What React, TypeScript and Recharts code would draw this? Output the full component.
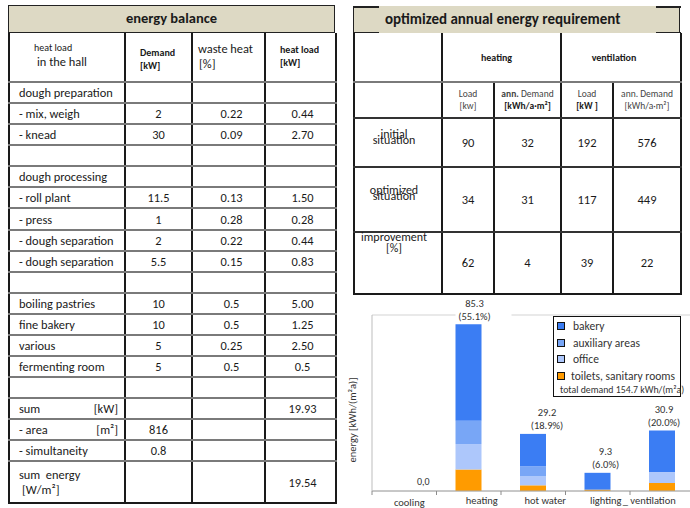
import { Bar, BarChart, CartesianGrid, LabelList, XAxis, YAxis } from 'recharts'

const FONT = 'Carlito, Lato, "Noto Sans", sans-serif'
const INK = '#1a1a1a'
const BEIGE = '#ddd9c4'
const V_LINE = '2px solid #1a1a1a'
const H_LINE = '2px solid #7a7a7a'

// energy balance
const balanceItems = [
  'dough preparation', '- mix, weigh', '- knead', '',
  'dough processing', '- roll plant', '- press', '- dough separation', '- dough separation', '',
  'boiling pastries', 'fine bakery', 'various', 'fermenting room', '',
  'sum', '- area', '- simultaneity',
]
const balanceUnits = ['', '', '', '', '', '', '', '', '', '', '', '', '', '', '', '[kW]', '[m²]', '']
const balanceDemand = ['', '2', '30', '', '', '11.5', '1', '2', '5.5', '', '10', '10', '5', '5', '', '', '816', '0.8']
const balanceWaste = ['', '0.22', '0.09', '', '', '0.13', '0.28', '0.22', '0.15', '', '0.5', '0.5', '0.25', '0.5', '', '', '', '']
const balanceLoad = ['', '0.44', '2.70', '', '', '1.50', '0.28', '0.44', '0.83', '', '5.00', '1.25', '2.50', '0.5', '', '19.93', '', '']
const sumEnergy = '19.54'

// optimized annual energy requirement
const situations = ['initial situation', 'optimized situation', 'improvement [%]']
const heatingLoad = [90, 34, 62]
const heatingDemand = [32, 31, 4]
const ventLoad = [192, 117, 39]
const ventDemand = [576, 449, 22]

// energy demand per use, kWh/(m²a)
const categories = ['cooling', 'heating', 'hot water', 'lighting', 'ventilation']
const tickLabels = ['cooling', 'heating', 'hot water', 'lighting', '_ ventilation']
const bakery = [0, 49.4, 16.6, 8.6, 21.2]
const auxiliary = [0, 11.9, 5.1, 0, 0]
const office = [0, 13.0, 4.6, 0, 5.6]
const toilets = [0, 11.0, 2.9, 0.7, 4.1]
const totalDemand = 154.7
const yTicks = [0, 10, 20, 30, 40, 50, 60, 70, 80, 90]

const SERIES = [
  { key: 'toilets', name: 'toilets, sanitary rooms', color: '#ff9b00' },
  { key: 'office', name: 'office', color: '#adc7fb' },
  { key: 'auxiliary', name: 'auxiliary areas', color: '#78a6f6' },
  { key: 'bakery', name: 'bakery', color: '#3b7df3' },
]

const chartData = categories.map((category, i) => ({
  category,
  bakery: bakery[i],
  auxiliary: auxiliary[i],
  office: office[i],
  toilets: toilets[i],
}))
const totals = categories.map(
  (_, i) => Math.round((bakery[i] + auxiliary[i] + office[i] + toilets[i]) * 10) / 10,
)

// small nudges so the labels sit where the old spreadsheet put them
const LABEL_SHIFT = [19, 6, 14, 8, 2]
const TICK_SHIFT = [5, 13, 12, 8, -13]
const TICK_DROP = [2, 0, 0, 0, 0]

function cell(extra: React.CSSProperties = {}): React.CSSProperties {
  return {
    borderLeft: V_LINE,
    borderRight: V_LINE,
    borderTop: H_LINE,
    borderBottom: H_LINE,
    padding: 0,
    ...extra,
  }
}

function BalanceTable() {
  const num = cell({ textAlign: 'center' })
  return (
    <div style={{ position: 'absolute', left: 8, top: 5, width: 327 }}>
      <div
        style={{
          height: 28,
          boxSizing: 'border-box',
          background: BEIGE,
          border: '1.5px solid #222',
          textAlign: 'center',
          fontWeight: 700,
          fontSize: 14.5,
          lineHeight: '25px',
        }}
      >
        energy balance
      </div>
      <table style={{ width: 327, borderCollapse: 'collapse', tableLayout: 'fixed', fontSize: 12.4 }}>
        <colgroup>
          {[116, 67, 73, 71].map((w, i) => (
            <col key={i} style={{ width: w }} />
          ))}
        </colgroup>
        <tbody>
          <tr style={{ height: 49 }}>
            <td style={cell({ borderTop: 'none', paddingLeft: 24, verticalAlign: 'top', paddingTop: 8 })}>
              <div style={{ fontSize: 10 }}>heat load</div>
              <div style={{ paddingLeft: 3 }}>in the hall</div>
            </td>
            <td style={cell({ borderTop: 'none', paddingLeft: 14, fontSize: 10, fontWeight: 700, paddingTop: 4 })}>
              <div>Demand</div>
              <div>[kW]</div>
            </td>
            <td style={cell({ borderTop: 'none', paddingLeft: 5, verticalAlign: 'top', paddingTop: 8 })}>
              <div>waste heat</div>
              <div style={{ paddingLeft: 1 }}>[%]</div>
            </td>
            <td style={cell({ borderTop: 'none', paddingLeft: 14, fontSize: 10, fontWeight: 700, verticalAlign: 'top', paddingTop: 10 })}>
              <div>heat load</div>
              <div>[kW]</div>
            </td>
          </tr>
          {balanceItems.map((item, i) => (
            <tr key={i} style={{ height: 21.08 }}>
              <td style={cell({ paddingLeft: 9, paddingRight: 6 })}>
                <div style={{ display: 'flex', justifyContent: 'space-between' }}>
                  <span>{item}</span>
                  <span>{balanceUnits[i]}</span>
                </div>
              </td>
              <td style={num}>{balanceDemand[i]}</td>
              <td style={cell({ textAlign: 'center', paddingLeft: 6 })}>{balanceWaste[i]}</td>
              <td style={cell({ textAlign: 'center', paddingLeft: 4 })}>{balanceLoad[i]}</td>
            </tr>
          ))}
          <tr style={{ height: 42 }}>
            <td style={cell({ paddingLeft: 9, borderBottom: V_LINE })}>
              <div>sum&nbsp; energy</div>
              <div style={{ paddingLeft: 3 }}>[W/m²]</div>
            </td>
            <td style={cell({ borderBottom: V_LINE })} />
            <td style={cell({ borderBottom: V_LINE })} />
            <td style={cell({ textAlign: 'center', paddingLeft: 4, borderBottom: V_LINE })}>{sumEnergy}</td>
          </tr>
        </tbody>
      </table>
    </div>
  )
}

function RequirementTable() {
  const dark = '2px solid #333'
  const rc = (extra: React.CSSProperties = {}): React.CSSProperties => ({
    borderLeft: V_LINE,
    borderRight: V_LINE,
    borderTop: dark,
    borderBottom: dark,
    padding: 0,
    textAlign: 'center',
    ...extra,
  })
  const small: React.CSSProperties = { fontSize: 9.5, color: '#444', lineHeight: '12px' }
  const rowHeights = [49, 64.5, 62.3]
  const labelLift = [-6, -6, -20]
  const labelGap = ['6px', '6px', '11px']
  const values = [heatingLoad, heatingDemand, ventLoad, ventDemand]
  const seg = (left: number, top: number) => (
    <div style={{ position: 'absolute', left, top, width: 25, height: 1.5, background: '#222' }} />
  )
  return (
    <div style={{ position: 'absolute', left: 353, top: 6, width: 327 }}>
      <div
        style={{
          position: 'relative',
          height: 27,
          boxSizing: 'border-box',
          background: BEIGE,
          borderLeft: '1.5px solid #222',
          borderRight: '1.5px solid #222',
          fontWeight: 700,
          fontSize: 15,
          lineHeight: '27px',
          paddingLeft: 31,
        }}
      >
        optimized annual energy requirement
        {seg(0, 0)}
        {seg(0, 25.5)}
        {seg(302, 0)}
        {seg(302, 25.5)}
      </div>
      <table style={{ width: 327, borderCollapse: 'collapse', tableLayout: 'fixed', fontSize: 12.5 }}>
        <colgroup>
          {[88, 52, 67, 52, 68].map((w, i) => (
            <col key={i} style={{ width: w }} />
          ))}
        </colgroup>
        <tbody>
          <tr style={{ height: 49 }}>
            <td style={rc({ borderTop: 'none', borderBottom: H_LINE })} />
            <td colSpan={2} style={rc({ borderTop: 'none', borderBottom: H_LINE, fontSize: 10, fontWeight: 700, paddingRight: 10 })}>
              heating
            </td>
            <td colSpan={2} style={rc({ borderTop: 'none', borderBottom: H_LINE, fontSize: 10, fontWeight: 700, paddingRight: 14 })}>
              ventilation
            </td>
          </tr>
          <tr style={{ height: 36 }}>
            <td style={rc()} />
            <td style={rc(small)}>
              <div>Load</div>
              <div>[kw]</div>
            </td>
            <td style={rc(small)}>
              <div>
                <b>ann.</b> Demand
              </div>
              <div style={{ fontWeight: 700, color: INK }}>[kWh/a·m²]</div>
            </td>
            <td style={rc(small)}>
              <div>Load</div>
              <div style={{ fontWeight: 700, color: INK }}>[kW ]</div>
            </td>
            <td style={rc(small)}>
              <div>ann. Demand</div>
              <div>[kWh/a·m²]</div>
            </td>
          </tr>
          {situations.map((s, r) => (
            <tr key={s} style={{ height: rowHeights[r] }}>
              <td style={rc({ fontSize: 12, paddingRight: 8, borderBottom: r === 2 ? V_LINE : dark })}>
                <div style={{ transform: `translateY(${labelLift[r]}px)`, lineHeight: labelGap[r] }}>
                  {s.split(' ').map((w) => (
                    <div key={w}>{w}</div>
                  ))}
                </div>
              </td>
              {values.map((col, c) => (
                <td key={c} style={rc({ borderBottom: r === 2 ? V_LINE : dark })}>
                  {col[r]}
                </td>
              ))}
            </tr>
          ))}
        </tbody>
      </table>
    </div>
  )
}

function CategoryTick(props: any) {
  const { x, y, index, width, visibleTicksCount } = props
  const band = width && visibleTicksCount ? width / visibleTicksCount : 64.5
  const left = x - band / 2
  return (
    <g>
      <line x1={left} x2={left} y1={y} y2={y + 4} stroke="#8c8c8c" />
      {totals[index] === 0 && (
        // an empty column gets no bar, so its total is written here
        <text x={x + LABEL_SHIFT[index]} y={y - 6.5} textAnchor="middle" fontSize={10} fill="#333" fontFamily={FONT}>
          0,0
        </text>
      )}
      <text
        x={x + TICK_SHIFT[index]}
        y={y + 13 + TICK_DROP[index]}
        textAnchor="middle"
        fontSize={10.5}
        fill="#333"
        fontFamily={FONT}
      >
        {tickLabels[index]}
      </text>
    </g>
  )
}

function TotalLabel(props: any) {
  const { x, y, width, value } = props
  const i = categories.indexOf(value)
  const total = totals[i]
  if (i < 0 || total === 0) return null
  const cx = x + width / 2 + LABEL_SHIFT[i]
  const pct = ((total / totalDemand) * 100).toFixed(1)
  return (
    <g>
      <rect x={x} y={y - 30} width={56} height={29} fill="#fff" />
      <text x={cx} y={y - 17.5} textAnchor="middle" fontSize={10.5} fill="#333" fontFamily={FONT}>
        {total.toFixed(1)}
      </text>
      <text x={cx} y={y - 4.5} textAnchor="middle" fontSize={10.5} fill="#333" fontFamily={FONT}>
        ({pct}%)
      </text>
    </g>
  )
}

function YTitle() {
  return (
    <text
      x={7}
      y={124}
      transform="rotate(-90 7 124)"
      textAnchor="middle"
      dominantBaseline="central"
      fontSize={10.5}
      fill="#333"
      fontFamily={FONT}
    >
      energy [kWh/(m²a)]
    </text>
  )
}

function LegendBox() {
  const items = [...SERIES].reverse()
  return (
    <div
      style={{
        position: 'absolute',
        left: 208,
        top: 20,
        width: 128,
        height: 81,
        boxSizing: 'border-box',
        border: '1.5px solid #111',
        background: '#fff',
        fontSize: 11.5,
        color: '#333',
        paddingTop: 1,
      }}
    >
      {items.map((s) => (
        <div key={s.key} style={{ display: 'flex', alignItems: 'center', height: 16.6, paddingLeft: 3, whiteSpace: 'nowrap' }}>
          <span
            style={{
              flex: 'none',
              width: 6,
              height: 6,
              border: '1px solid #111',
              background: s.color,
              marginRight: s.key === 'toilets' ? 6 : 8,
            }}
          />
          <span>{s.name}</span>
        </div>
      ))}
      <div style={{ paddingLeft: 6, fontSize: 9.8, whiteSpace: 'nowrap', lineHeight: '12px' }}>
        total demand {totalDemand} kWh/(m²a)
      </div>
    </div>
  )
}

function DemandChart() {
  return (
    <div style={{ position: 'absolute', left: 345, top: 296 }}>
      <BarChart
        width={360}
        height={212}
        data={chartData}
        margin={{ top: 19, right: 10.5, bottom: 0, left: 0 }}
        barSize={26}
      >
        <CartesianGrid vertical={false} stroke="#d3d3d3" />
        <XAxis
          dataKey="category"
          height={17}
          interval={0}
          axisLine={{ stroke: '#a6a6a6' }}
          tickLine={false}
          tickSize={0}
          tickMargin={0}
          tick={<CategoryTick />}
        />
        <YAxis
          width={27}
          domain={[0, 90]}
          ticks={yTicks}
          tick={false}
          tickLine={false}
          axisLine={{ stroke: '#bdbdbd' }}
          label={<YTitle />}
        />
        {SERIES.map((s) => (
          <Bar key={s.key} dataKey={s.key} name={s.name} stackId="demand" fill={s.color} isAnimationActive={false}>
            {s.key === 'bakery' && <LabelList dataKey="category" content={TotalLabel} />}
          </Bar>
        ))}
      </BarChart>
      <LegendBox />
    </div>
  )
}

export default function App() {
  return (
    <div
      style={{
        position: 'absolute',
        left: 0,
        top: 0,
        width: 690,
        height: 508,
        overflow: 'hidden',
        background: '#fff',
        fontFamily: FONT,
        color: INK,
      }}
    >
      <BalanceTable />
      <RequirementTable />
      <DemandChart />
    </div>
  )
}
